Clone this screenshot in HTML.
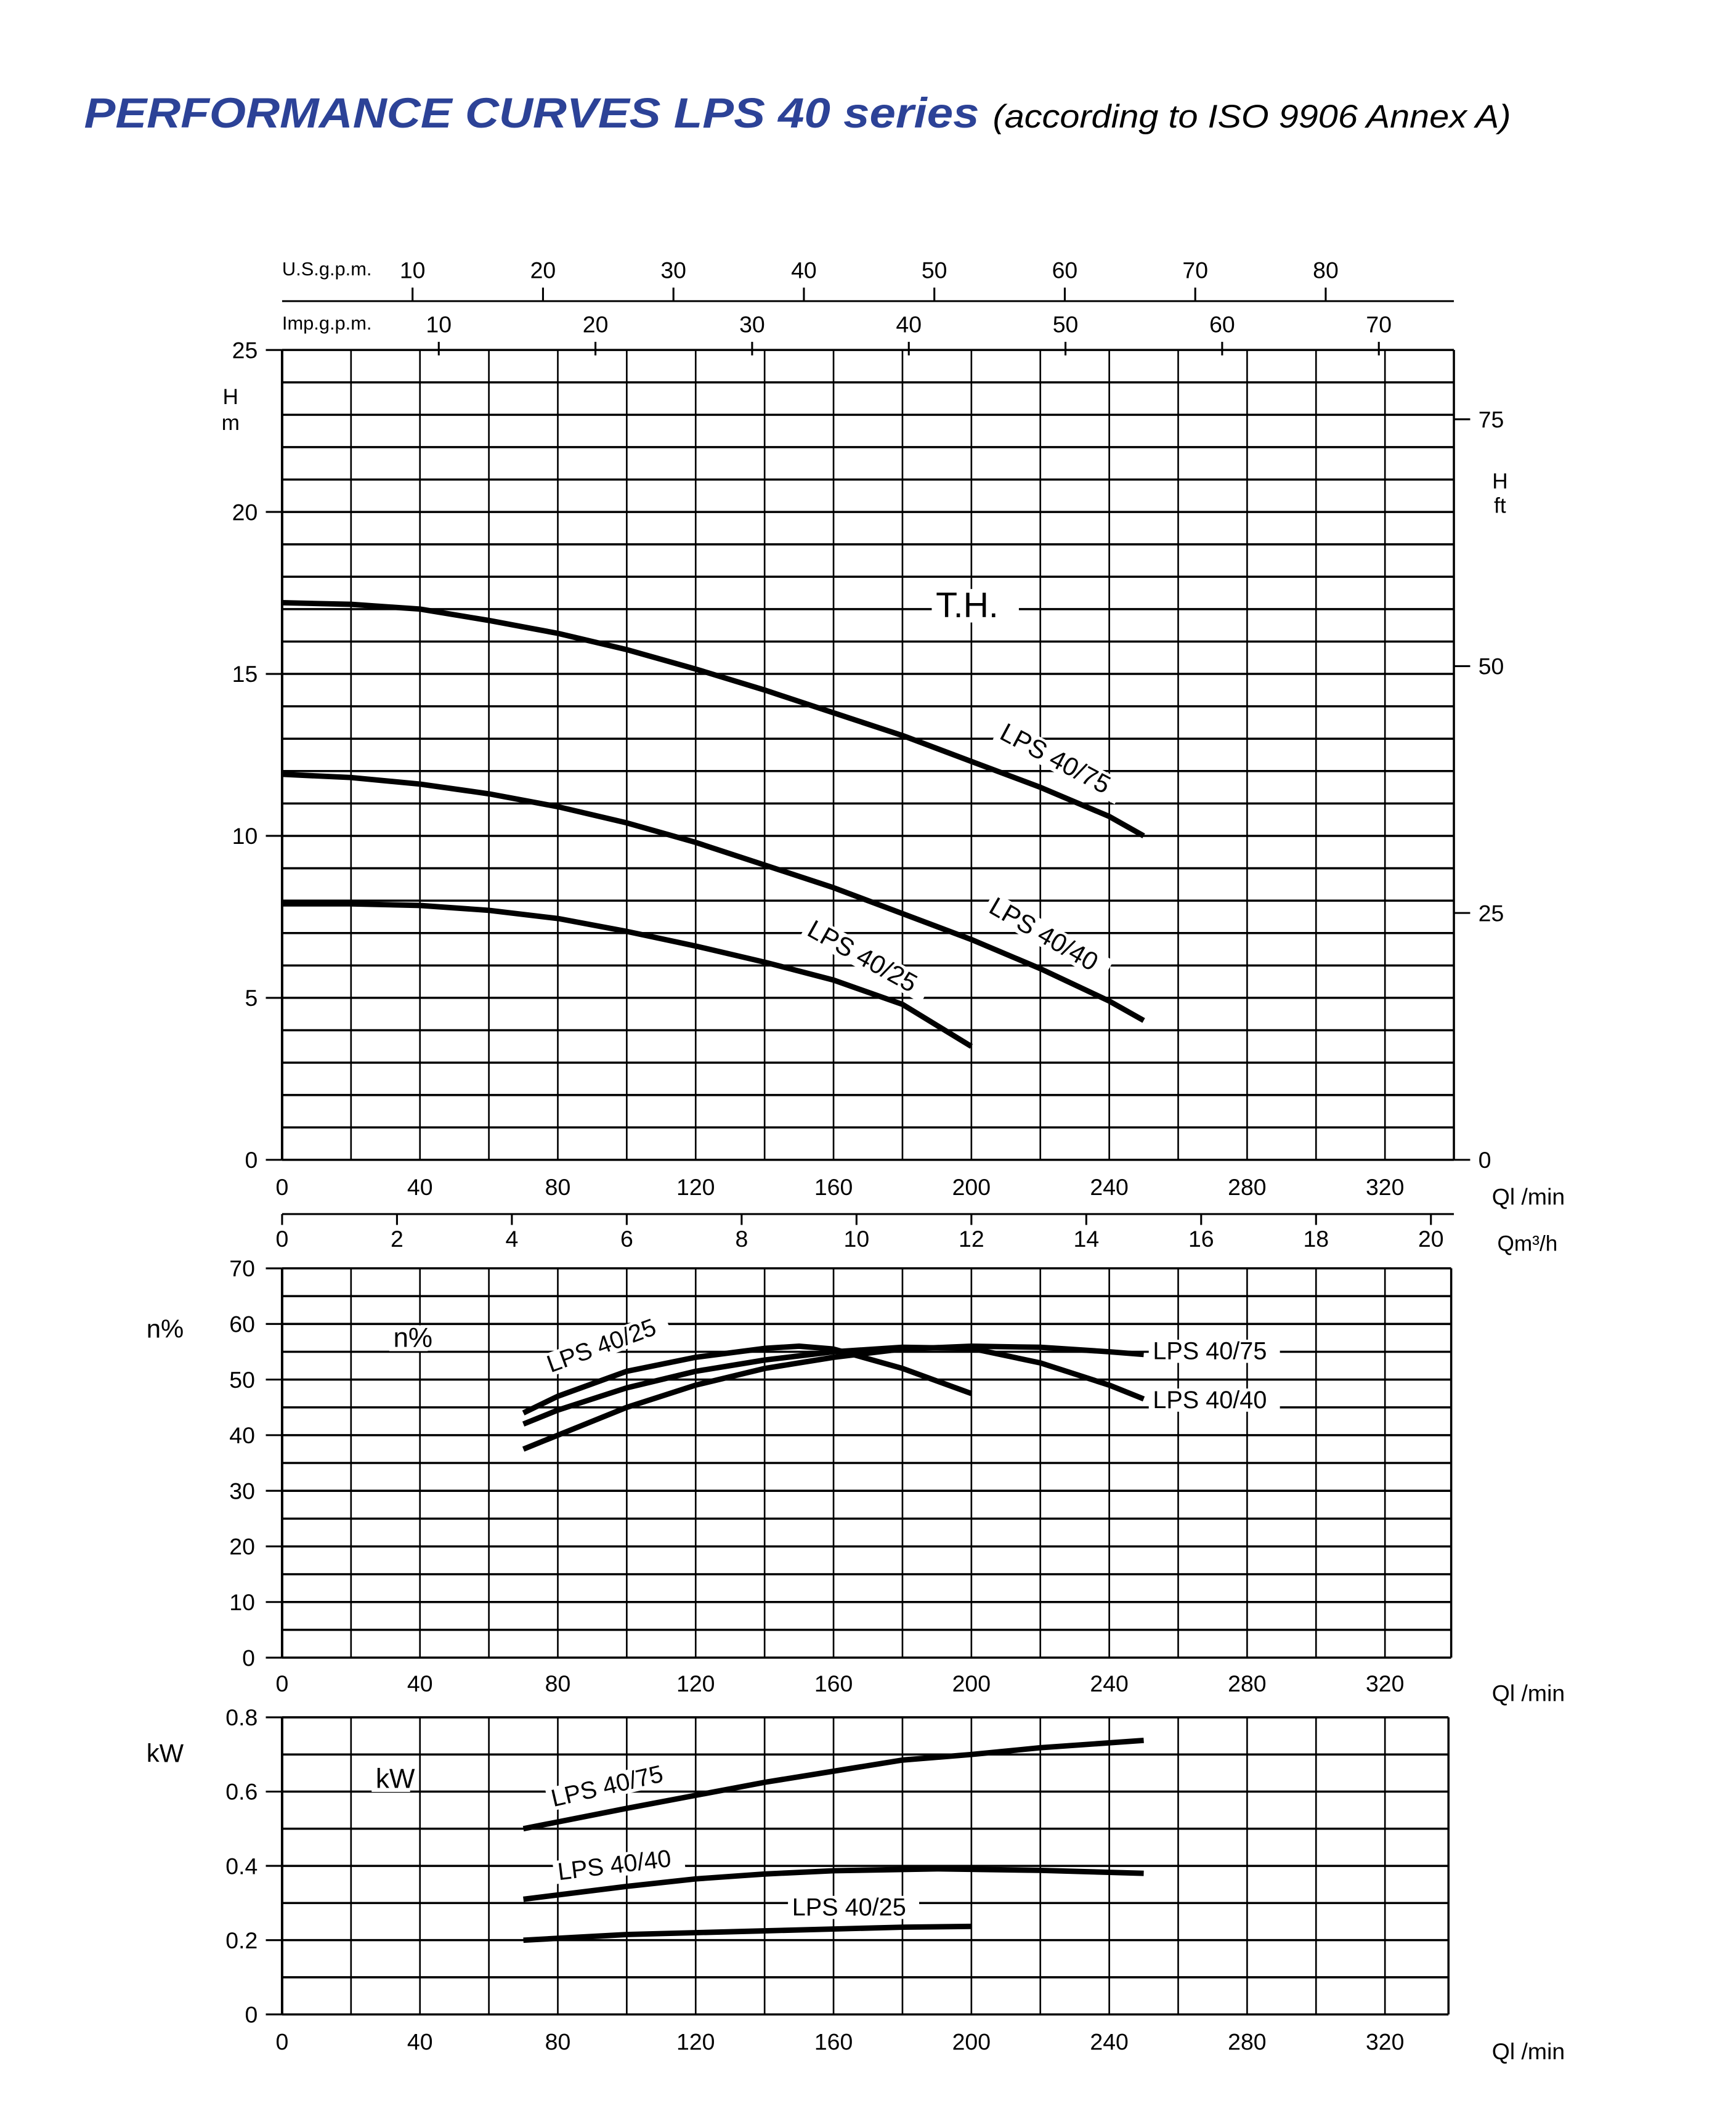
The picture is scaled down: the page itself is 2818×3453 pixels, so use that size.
<!DOCTYPE html>
<html><head><meta charset="utf-8"><style>
html,body{margin:0;padding:0;background:#fff;}
svg{display:block;}
</style></head><body>
<svg id="s" width="2818" height="3453" viewBox="0 0 1280 1568" preserveAspectRatio="none" xmlns="http://www.w3.org/2000/svg" font-family="Liberation Sans, sans-serif">
<rect width="1280" height="1568" fill="#fff"/>
<text x="62" y="94" font-size="31" font-weight="bold" font-style="italic" fill="#2c4297" textLength="660" lengthAdjust="spacingAndGlyphs">PERFORMANCE CURVES LPS 40 series</text>
<text x="732" y="94" font-size="24" font-style="italic" fill="#000" textLength="382" lengthAdjust="spacingAndGlyphs">(according to ISO 9906 Annex A)</text>
<g id="g"></g>
</svg>
<script>
var g=document.getElementById('g'),out='',curves='';
function L(x1,y1,x2,y2,w){out+='<line x1="'+x1+'" y1="'+y1+'" x2="'+x2+'" y2="'+y2+'" stroke="#000" stroke-width="'+(w||1.4)+'"/>';}
function T(x,y,s,fs,anc,rot,bg){var tr=rot?' transform="rotate('+rot+' '+x+' '+y+')"':'';
 if(bg){var w=s.length*fs*0.56;out+='<rect x="'+(x-3)+'" y="'+(y-fs*0.8)+'" width="'+(w+6)+'" height="'+(fs*0.95)+'" fill="#fff"'+tr+'/>';}
 out+='<text x="'+x+'" y="'+y+'" font-size="'+fs+'" text-anchor="'+(anc||'start')+'"'+tr+'>'+s+'</text>';}
var X0=208,KX=(1072-208)/340;
function qx(q){return X0+q*KX;}
function curve(pts,fy){var d='';pts.forEach(function(p,i){d+=(i?'L':'M')+qx(p[0]).toFixed(1)+' '+fy(p[1]).toFixed(1);});
 curves+='<path d="'+d+'" fill="none" stroke="#000" stroke-width="4" stroke-linejoin="round"/>';}
function grid(top,bot,right,rows){
 for(var i=0;i<=rows;i++){var y=top+(bot-top)*i/rows;L(X0,y,right,y,1.6);}
 for(var q=0;q<=320;q+=20)L(qx(q),top,qx(q),bot,1.2);
 L(right,top,right,bot,1.6);L(X0,top,X0,bot,1.8);}
var T1=258,B1=855;function hy(h){return B1-(B1-T1)*h/25;}
grid(T1,B1,1072,25);
[0,5,10,15,20,25].forEach(function(v){L(196,hy(v),X0,hy(v));T(190,hy(v)+6,v,17,'end');});
T(170,298,'H',16,'middle');T(170,317,'m',16,'middle');
[0,25,50,75].forEach(function(v){var y=B1-(B1-T1)*(v*0.3048)/25;L(1072,y,1084,y);T(1090,y+6,v,17);});
T(1106,360,'H',16,'middle');T(1106,378,'ft',16,'middle');
L(X0,222,1072,222);
T(208,203,'U.S.g.p.m.',14);T(208,243,'Imp.g.p.m.',14);
for(var u=10;u<=80;u+=10){var x=qx(u*3.785);L(x,212,x,222);T(x,205,u,17,'middle');}
for(var u=10;u<=70;u+=10){var x=qx(u*4.546);L(x,252,x,262);T(x,245,u,17,'middle');}
function xl(y){for(var q=0;q<=320;q+=40)T(qx(q),y,q,17,'middle');T(1100,y+7,'Ql /min',17);}
xl(881);
T(690,455,'T.H.',26,'start',0,true);
curve([[0,17.2],[20,17.15],[40,17],[60,16.65],[80,16.25],[100,15.75],[120,15.15],[140,14.5],[160,13.8],[180,13.1],[200,12.3],[220,11.5],[240,10.6],[250,10]],hy);
curve([[0,11.9],[20,11.8],[40,11.6],[60,11.3],[80,10.9],[100,10.4],[120,9.8],[140,9.1],[160,8.4],[180,7.6],[200,6.8],[220,5.9],[240,4.9],[250,4.3]],hy);
curve([[0,7.9],[20,7.9],[40,7.85],[60,7.7],[80,7.45],[100,7.05],[120,6.6],[140,6.1],[160,5.55],[180,4.8],[200,3.5]],hy);
T(736,544,'LPS 40/75',19,'start',28,true);
T(728,672,'LPS 40/40',19,'start',30,true);
T(594,689,'LPS 40/25',19,'start',29,true);
L(X0,895,1072,895);
for(var m=0;m<=20;m+=2){var x=qx(m*1000/60);L(x,895,x,903);T(x,919,m,17,'middle');}
T(1104,922,'Qm³/h',16);
var T2=935,B2=1222;function ey(e){return B2-(B2-T2)*e/70;}
grid(T2,B2,1070,14);
for(var v=0;v<=70;v+=10){L(196,ey(v),X0,ey(v));T(188,ey(v)+6,v,17,'end');}
T(108,986,'n%',19);
T(290,993,'n%',20,'start',0,true);
xl(1247);
curve([[70,44],[80,47],[100,51.5],[120,54],[140,55.6],[150,56],[160,55.5],[180,52],[200,47.5]],ey);
curve([[70,42],[80,44.5],[100,48.5],[120,51.5],[140,53.5],[160,55],[180,55.8],[200,55.6],[220,53],[240,49],[250,46.5]],ey);
curve([[70,37.5],[80,40],[100,45],[120,49],[140,52],[160,54],[180,55.5],[200,56],[220,55.8],[240,55],[250,54.5]],ey);
T(406,1012,'LPS 40/25',18,'start',-20,true);
T(850,1002,'LPS 40/75',18,'start',0,true);
T(850,1038,'LPS 40/40',18,'start',0,true);
var T3=1266,B3=1485;function ky(k){return B3-(B3-T3)*k/0.8;}
grid(T3,B3,1068,8);
['0','0.2','0.4','0.6','0.8'].forEach(function(s,i){var y=ky(i*0.2);L(196,y,X0,y);T(190,y+6,s,17,'end');});
T(108,1299,'kW',19);
T(277,1318,'kW',20,'start',0,true);
xl(1511);
curve([[70,0.5],[100,0.555],[120,0.59],[140,0.625],[160,0.655],[180,0.685],[200,0.7],[220,0.718],[250,0.738]],ky);
curve([[70,0.31],[100,0.345],[120,0.365],[140,0.378],[160,0.387],[190,0.392],[220,0.388],[250,0.38]],ky);
curve([[70,0.2],[100,0.215],[140,0.225],[180,0.235],[200,0.237]],ky);
T(408,1332,'LPS 40/75',18,'start',-13,true);
T(412,1386,'LPS 40/40',18,'start',-7,true);
T(584,1412,'LPS 40/25',18,'start',0,true);
g.innerHTML=out+curves;
</script>
</body></html>
